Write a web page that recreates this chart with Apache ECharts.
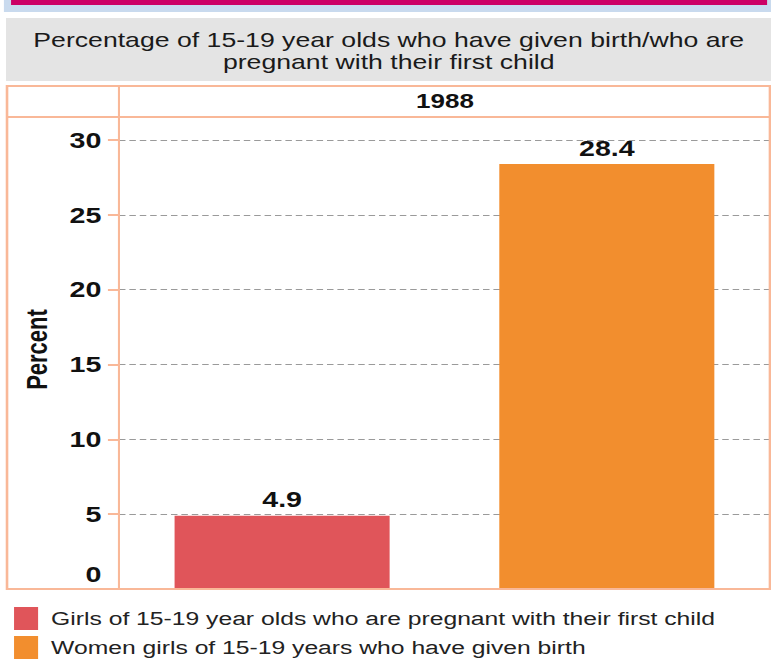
<!DOCTYPE html>
<html>
<head>
<meta charset="utf-8">
<script src="https://cdn.jsdelivr.net/npm/echarts@6/dist/echarts.min.js"></script>
<style>
html,body{margin:0;padding:0;background:#fff;overflow:hidden;}
#wrap{width:771px;height:663px;overflow:hidden;}
#chart{width:593px;height:663px;transform:scaleX(1.30017);transform-origin:0 0;}
</style>
</head>
<body>
<div id="wrap"><div id="chart"></div></div>
<script>
const titleLines = ['Percentage of 15-19 year olds who have given birth/who are', 'pregnant with their first child'];
const categories = ['1988'];
const seriesNames = ['Girls of 15-19 year olds who are pregnant with their first child', 'Women girls of 15-19 years who have given birth'];
const pregnantValues = [4.9];
const givenBirthValues = [28.4];
const yTicks = [0, 5, 10, 15, 20, 25, 30];
const colors = ['#E0555A', '#F28E2E'];
const frameColor = '#F9B898';

const chart = echarts.init(document.getElementById('chart'), null, {renderer: 'svg'});
const font = '"Liberation Sans", Arial, sans-serif';

chart.setOption({
  animation: false,
  textStyle: {fontFamily: font},
  graphic: [
    {type: 'rect', shape: {x: 3, y: 0, width: 590, height: 12}, style: {fill: '#C9DAEE'}, z: -1},
    {type: 'rect', shape: {x: 8.5, y: 0, width: 581.5, height: 5}, style: {fill: '#CC0066'}, z: 0},
    {type: 'rect', shape: {x: 4.6, y: 18, width: 590, height: 63}, style: {fill: '#E4E4E4'}, z: -1},
    {type: 'text', style: {text: titleLines.join('\n'), x: 299, y: 51, align: 'center', verticalAlign: 'middle', font: '20.5px ' + font, fill: '#1a1a1a', lineHeight: 22}},
    {type: 'rect', shape: {x: 5.4, y: 86, width: 586.8, height: 503}, style: {fill: 'none', stroke: frameColor, lineWidth: 2}, z: 10},
    {type: 'line', shape: {x1: 5.4, y1: 117, x2: 592.2, y2: 117}, style: {stroke: frameColor, lineWidth: 2}, z: 10},
    {type: 'line', shape: {x1: 91.5, y1: 86, x2: 91.5, y2: 589}, style: {stroke: frameColor, lineWidth: 1.6}, z: 10},
    {type: 'text', style: {text: categories[0], x: 342.3, y: 101, align: 'center', verticalAlign: 'middle', font: 'bold 20px ' + font, fill: '#111'}}
  ],
  grid: {left: 91.5, right: 0.8, top: 140, bottom: 74, containLabel: false},
  legend: {
    orient: 'vertical', left: 10.8, top: 607, padding: 0,
    itemWidth: 18.5, itemHeight: 23, itemGap: 6,
    icon: 'rect',
    textStyle: {fontSize: 19, color: '#222', fontFamily: font, padding: [0, 0, 0, 5]},
    data: seriesNames
  },
  xAxis: {
    type: 'category', data: categories,
    axisLine: {show: false}, axisTick: {show: false}, axisLabel: {show: false}
  },
  yAxis: {
    type: 'value', min: yTicks[0], max: yTicks[yTicks.length - 1], interval: 5,
    name: 'Percent', nameLocation: 'middle', nameGap: 52, nameRotate: 90,
    nameTextStyle: {fontSize: 22, fontWeight: 'bold', color: '#111', fontFamily: font, padding: [0, 0, 0, 30]},
    axisLine: {show: false},
    axisTick: {show: true, length: 8.5, lineStyle: {color: frameColor, width: 2}},
    axisLabel: {
      fontSize: 22, fontWeight: 'bold', color: '#111', margin: 13.5, fontFamily: font,
      formatter: function (v) { return v === 0 ? '{z|0}' : String(v); },
      rich: {z: {fontSize: 22, fontWeight: 'bold', color: '#111', fontFamily: font, padding: [0, 0, 30, 0]}}
    },
    splitLine: {show: true, showMinLine: false, lineStyle: {color: '#9a9a9a', type: [5, 3], width: 1}}
  },
  series: [
    {
      name: seriesNames[0], type: 'bar', data: pregnantValues, barWidth: 165.4, barGap: '51%',
      itemStyle: {color: colors[0]},
      label: {show: true, position: 'top', distance: 5, fontSize: 22, fontWeight: 'bold', color: '#111', fontFamily: font}
    },
    {
      name: seriesNames[1], type: 'bar', data: givenBirthValues, barWidth: 165.4,
      itemStyle: {color: colors[1]},
      label: {show: true, position: 'top', distance: 5, fontSize: 22, fontWeight: 'bold', color: '#111', fontFamily: font}
    }
  ]
});
</script>
</body>
</html>
